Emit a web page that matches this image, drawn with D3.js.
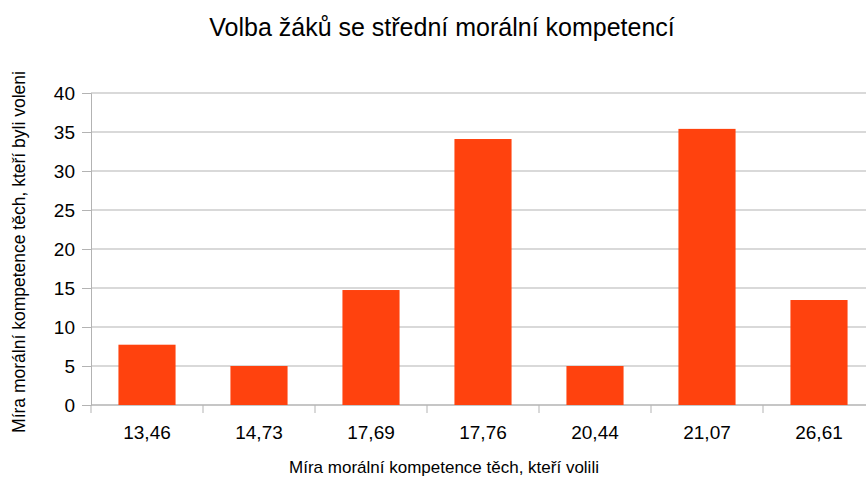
<!DOCTYPE html>
<html>
<head>
<meta charset="utf-8">
<script src="https://cdn.jsdelivr.net/npm/d3@7"></script>
<style>
  body { margin: 0; background: #fff; }
  text { font-family: "Liberation Sans", Arial, sans-serif; fill: #000; }
</style>
</head>
<body>
<div id="chart"></div>
<script>
// chart values
var categories = ["13,46", "14,73", "17,69", "17,76", "20,44", "21,07", "26,61"];
var values = [7.73, 5.0, 14.74, 34.1, 5.0, 35.4, 13.46];
var yTicks = [0, 5, 10, 15, 20, 25, 30, 35, 40];

var chartTitle = "Volba žáků se střední morální kompetencí";
var xTitle = "Míra morální kompetence těch, kteří volili";
var yTitle = "Míra morální kompetence těch, kteří byli voleni";

var width = 866, height = 481;
var plot = {left: 91, right: 875, top: 93, bottom: 405};

var svg = d3.select("#chart")
    .append("svg")
    .attr("width", width)
    .attr("height", height);

var x = d3.scaleBand()
    .domain(categories)
    .range([plot.left, plot.right])
    .paddingInner(0.49)
    .paddingOuter(0.245);

var y = d3.scaleLinear()
    .domain([0, 40])
    .range([plot.bottom, plot.top]);

// gridlines
svg.append("g")
    .selectAll("line")
    .data(yTicks)
    .enter()
    .append("line")
        .attr("x1", plot.left)
        .attr("x2", plot.right)
        .attr("y1", function(d) { return y(d); })
        .attr("y2", function(d) { return y(d); })
        .attr("stroke", "#b3b3b3")
        .attr("stroke-width", 1);

// y axis
var yAxis = svg.append("g")
    .attr("transform", "translate(" + plot.left + ",0)")
    .call(d3.axisLeft(y).tickValues(yTicks).tickSize(9).tickPadding(7));
yAxis.selectAll("text").attr("font-size", "19px");

// x axis - ticks sit on the band edges, like the original
var step = x.step();
var edges = d3.range(categories.length + 1).map(function(i) { return plot.left + i * step; });

var xAxis = svg.append("g")
    .attr("transform", "translate(0," + plot.bottom + ")")
    .call(d3.axisBottom(x).tickSize(0).tickPadding(21));
xAxis.selectAll("text").attr("font-size", "19px");
xAxis.selectAll(".domain").remove();

svg.append("g")
    .selectAll("line")
    .data(edges)
    .enter()
    .append("line")
        .attr("x1", function(d) { return d; })
        .attr("x2", function(d) { return d; })
        .attr("y1", plot.bottom)
        .attr("y2", plot.bottom + 8)
        .attr("stroke", "#b3b3b3");

svg.append("line")
    .attr("x1", plot.left).attr("x2", plot.right)
    .attr("y1", plot.bottom).attr("y2", plot.bottom)
    .attr("stroke", "#b3b3b3");

svg.selectAll(".domain, .tick line").attr("stroke", "#b3b3b3");

// bars
svg.append("g")
    .selectAll("rect")
    .data(values)
    .enter()
    .append("rect")
        .attr("x", function(d, i) { return x(categories[i]); })
        .attr("width", x.bandwidth())
        .attr("y", function(d) { return y(d); })
        .attr("height", function(d) { return y(0) - y(d); })
        .attr("fill", "#ff420e");

// titles
svg.append("text")
    .attr("x", 442)
    .attr("y", 36)
    .attr("text-anchor", "middle")
    .attr("font-size", "25px")
    .text(chartTitle);

svg.append("text")
    .attr("x", 444)
    .attr("y", 473)
    .attr("text-anchor", "middle")
    .attr("font-size", "17px")
    .text(xTitle);

svg.append("text")
    .attr("transform", "translate(25,252) rotate(-90)")
    .attr("text-anchor", "middle")
    .attr("font-size", "17.5px")
    .text(yTitle);
</script>
</body>
</html>
